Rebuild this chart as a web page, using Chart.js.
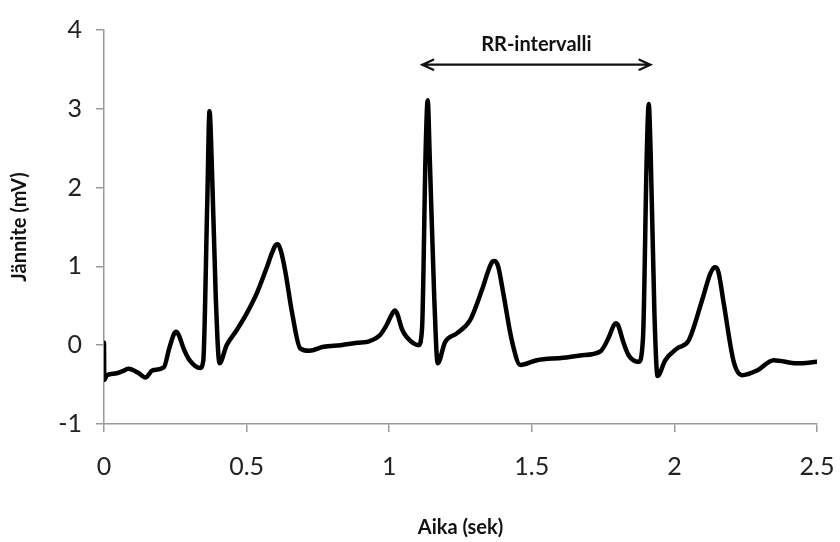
<!DOCTYPE html>
<html>
<head>
<meta charset="utf-8">
<script src="https://cdn.jsdelivr.net/npm/chart.js@4/dist/chart.umd.min.js"></script>
<style>
html,body{margin:0;padding:0;background:#fff;}
#wrap{width:840px;height:542px;}
</style>
</head>
<body>
<div id="wrap"><canvas id="c" width="840" height="542"></canvas></div>
<script>
const timeSec = [0, 0.001, 0.01, 0.04, 0.065, 0.085, 0.12, 0.145, 0.17, 0.21, 0.228, 0.245, 0.253, 0.262, 0.28, 0.30, 0.337, 0.348, 0.362, 0.370, 0.378, 0.392, 0.405, 0.43, 0.465, 0.50, 0.536, 0.571, 0.59, 0.602, 0.61, 0.62, 0.635, 0.66, 0.688, 0.72, 0.77, 0.83, 0.887, 0.93, 0.968, 0.99, 1.012, 1.02, 1.028, 1.045, 1.062, 1.103, 1.115, 1.128, 1.135, 1.142, 1.158, 1.17, 1.196, 1.237, 1.284, 1.325, 1.35, 1.362, 1.37, 1.382, 1.40, 1.43, 1.46, 1.518, 1.61, 1.67, 1.74, 1.77, 1.787, 1.795, 1.803, 1.82, 1.84, 1.875, 1.89, 1.903, 1.91, 1.917, 1.93, 1.941, 1.968, 2.01, 2.05, 2.097, 2.125, 2.137, 2.145, 2.155, 2.173, 2.208, 2.237, 2.29, 2.348, 2.43, 2.50];
const voltageMv = [0.03, -0.44, -0.38, -0.36, -0.33, -0.30, -0.35, -0.41, -0.32, -0.28, -0.05, 0.14, 0.17, 0.13, -0.05, -0.19, -0.29, -0.20, 1.80, 2.97, 2.30, 0.60, -0.23, 0.00, 0.19, 0.40, 0.66, 0.99, 1.18, 1.27, 1.28, 1.20, 0.95, 0.40, -0.04, -0.07, -0.02, 0.00, 0.03, 0.05, 0.13, 0.25, 0.41, 0.44, 0.40, 0.20, 0.10, 0.00, 0.20, 2.50, 3.11, 2.40, 0.60, -0.23, 0.04, 0.15, 0.32, 0.70, 0.97, 1.06, 1.07, 1.00, 0.66, 0.06, -0.25, -0.19, -0.16, -0.13, -0.08, 0.10, 0.25, 0.28, 0.25, 0.05, -0.13, -0.21, 0.10, 2.40, 3.06, 2.40, 0.40, -0.39, -0.19, -0.04, 0.06, 0.57, 0.90, 0.98, 0.99, 0.92, 0.53, -0.21, -0.38, -0.32, -0.19, -0.23, -0.21];
const xTicks = [0, 0.5, 1, 1.5, 2, 2.5];
const yTicks = [-1, 0, 1, 2, 3, 4];
const rrLabel = "RR-intervalli";
const rrStart = 1.116;
const rrEnd = 1.916;
const rrLevel = 3.56;
const rrTextLevel = 3.82;

const points = timeSec.map((t, i) => ({x: t, y: voltageMv[i]}));
const FONT = "Lato, 'Open Sans', 'DejaVu Sans', sans-serif";
const AXIS = "#9a9a9a";

const rrPlugin = {
  id: 'rr',
  afterDatasetsDraw(chart) {
    const ctx = chart.ctx, xs = chart.scales.x, ys = chart.scales.y;
    const x1 = xs.getPixelForValue(rrStart), x2 = xs.getPixelForValue(rrEnd);
    const y = ys.getPixelForValue(rrLevel);
    ctx.save();
    ctx.strokeStyle = '#111';
    ctx.lineWidth = 2.2;
    ctx.lineCap = 'round';
    ctx.beginPath();
    ctx.moveTo(x1, y); ctx.lineTo(x2, y);
    ctx.moveTo(x1 + 11, y - 5); ctx.lineTo(x1, y); ctx.lineTo(x1 + 11, y + 5);
    ctx.moveTo(x2 - 11, y - 5); ctx.lineTo(x2, y); ctx.lineTo(x2 - 11, y + 5);
    ctx.stroke();
    ctx.fillStyle = '#111';
    ctx.font = "bold 20px " + FONT;
    ctx.textAlign = 'center';
    ctx.textBaseline = 'middle';
    ctx.fillText(rrLabel, (x1 + x2) / 2, ys.getPixelForValue(rrTextLevel));
    ctx.restore();
  }
};

new Chart(document.getElementById('c'), {
  type: 'line',
  data: {
    datasets: [{
      data: points,
      borderColor: '#000',
      borderWidth: 4.5,
      pointRadius: 0,
      cubicInterpolationMode: 'monotone',
      borderJoinStyle: 'round',
      borderCapStyle: 'round',
      fill: false
    }]
  },
  options: {
    responsive: false,
    animation: false,
    layout: {padding: {top: 30, right: 23, bottom: 0, left: 0}},
    plugins: {legend: {display: false}, tooltip: {enabled: false}},
    scales: {
      x: {
        type: 'linear',
        min: 0, max: 2.5,
        afterBuildTicks: s => { s.ticks = xTicks.map(v => ({value: v})); },
        afterFit: s => { s.height = 118; s.paddingLeft = 0; s.paddingRight = 0; },
        grid: {drawOnChartArea: false, drawTicks: true, tickLength: 8, color: AXIS, lineWidth: 1.5},
        border: {color: AXIS, width: 1.5},
        ticks: {font: {family: FONT, size: 25}, color: '#222', padding: 20, maxRotation: 0,
                callback: v => String(v)},
        title: {display: true, text: 'Aika (sek)', font: {family: FONT, size: 20, weight: 'bold'}, color: '#111', padding: {top: 2, bottom: 2}}
      },
      y: {
        type: 'linear',
        min: -1, max: 4,
        afterBuildTicks: s => { s.ticks = yTicks.map(v => ({value: v})); },
        afterFit: s => { s.width = 104; s.paddingTop = 0; s.paddingBottom = 0; },
        grid: {drawOnChartArea: false, drawTicks: true, tickLength: 8, color: AXIS, lineWidth: 1.5},
        border: {color: AXIS, width: 1.5},
        ticks: {font: {family: FONT, size: 25}, color: '#222', padding: 14,
                callback: v => String(v)},
        title: {display: true, text: 'Jännite (mV)', font: {family: FONT, size: 20, weight: 'bold'}, color: '#111', padding: {top: 8, bottom: 0}}
      }
    }
  },
  plugins: [rrPlugin]
});
</script>
</body>
</html>
